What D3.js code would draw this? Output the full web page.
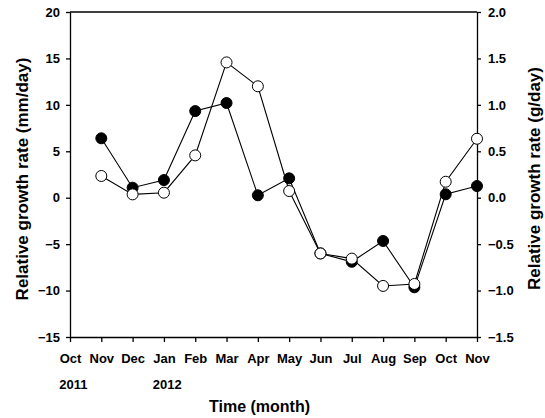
<!DOCTYPE html>
<html>
<head>
<meta charset="utf-8">
<script src="https://cdn.jsdelivr.net/npm/d3@7"></script>
<style>
	body { margin: 0; background: #fff; }
	svg text { font-family: "Liberation Sans", Arial, sans-serif; font-weight: bold; fill: #000; }
	.axis path, .axis line { stroke: #000; stroke-width: 1.3; }
	.line { fill: none; stroke: #000; stroke-width: 1.1; }
</style>
</head>
<body>
<div id="chart"></div>
<script>
	//month tick labels, Oct 2011 .. Nov 2012
	var months = ["Oct", "Nov", "Dec", "Jan", "Feb", "Mar", "Apr", "May", "Jun", "Jul", "Aug", "Sep", "Oct", "Nov"];
	var years = [{i: 0, label: "2011"}, {i: 3, label: "2012"}];
	//data points sit on months 1..13 (Nov 2011 .. Nov 2012)
	var pointMonths = [1, 2, 3, 4, 5, 6, 7, 8, 9, 10, 11, 12, 13];
	//filled circles, left axis (mm/day)
	var rgrLength = [6.4, 1.08, 1.9, 9.33, 10.2, 0.26, 2.09, -6.0, -6.9, -4.66, -9.65, 0.37, 1.26];
	//open circles, right axis (g/day)
	var rgrWeight = [0.234, 0.036, 0.054, 0.456, 1.457, 1.2, 0.072, -0.6, -0.656, -0.95, -0.929, 0.172, 0.635];
	var leftTicks = [-15, -10, -5, 0, 5, 10, 15, 20];
	var rightTicks = [-1.5, -1.0, -0.5, 0.0, 0.5, 1.0, 1.5, 2.0];

	var W = 545, H = 418;
	var margin = {top: 12, right: 68, bottom: 81, left: 70};
	var graph_w = W - margin.left - margin.right;
	var graph_h = H - margin.top - margin.bottom;

	var svg = d3.select("#chart").append("svg")
		.attr("width", W)
		.attr("height", H);
	var g = svg.append("g")
		.attr("transform", "translate(" + margin.left + "," + margin.top + ")");

	var x = d3.scaleLinear()
		.domain([0, months.length - 1])
		.range([0, graph_w]);
	var yL = d3.scaleLinear()
		.domain([-15, 20])
		.range([graph_h, 0]);
	var yR = d3.scaleLinear()
		.domain([-1.5, 2.0])
		.range([graph_h, 0]);

	//top border
	g.append("line")
		.attr("x1", 0).attr("x2", graph_w)
		.attr("y1", 0).attr("y2", 0)
		.attr("stroke", "#000").attr("stroke-width", 1.3);

	var xAxis = g.append("g")
		.attr("class", "axis x")
		.attr("transform", "translate(0," + graph_h + ")")
		.call(d3.axisBottom(x)
			.tickValues(d3.range(months.length))
			.tickSize(5).tickSizeOuter(0)
			.tickPadding(12)
			.tickFormat(function(d) { return months[d]; }));
	xAxis.selectAll("text").attr("font-size", 13);

	//year labels start where the month label starts
	years.forEach(function(yr) {
		var lbl = xAxis.selectAll(".tick text").filter(function(d) { return d == yr.i; }).node();
		var w = lbl.getComputedTextLength();
		g.append("text")
			.attr("x", x(yr.i) - w / 2)
			.attr("y", graph_h + 52)
			.attr("font-size", 13)
			.text(yr.label);
	});

	var leftAxis = g.append("g")
		.attr("class", "axis y")
		.call(d3.axisLeft(yL)
			.tickValues(leftTicks)
			.tickSize(4).tickSizeOuter(0)
			.tickPadding(6)
			.tickFormat(d3.format("d")));
	leftAxis.selectAll("text").attr("font-size", 13);

	var rightAxis = g.append("g")
		.attr("class", "axis y2")
		.attr("transform", "translate(" + graph_w + ",0)")
		.call(d3.axisRight(yR)
			.tickValues(rightTicks)
			.tickSize(4).tickSizeOuter(0)
			.tickPadding(7)
			.tickFormat(d3.format(".1f")));
	rightAxis.selectAll("text").attr("font-size", 13);

	//axis titles
	svg.append("text")
		.attr("text-anchor", "middle")
		.attr("transform", "translate(27.5,179) rotate(-90)")
		.attr("font-size", 17)
		.text("Relative growth rate (mm/day)");
	svg.append("text")
		.attr("text-anchor", "middle")
		.attr("transform", "translate(539.5,178.5) rotate(-90)")
		.attr("font-size", 17)
		.text("Relative growth rate (g/day)");
	svg.append("text")
		.attr("text-anchor", "middle")
		.attr("x", 259.5)
		.attr("y", 412)
		.attr("font-size", 16)
		.text("Time (month)");

	var lenData = pointMonths.map(function(m, i) { return {m: m, v: rgrLength[i]}; });
	var wtData = pointMonths.map(function(m, i) { return {m: m, v: rgrWeight[i]}; });

	//filled series
	g.append("path")
		.datum(lenData)
		.attr("class", "line")
		.attr("d", d3.line()
			.x(function(d) { return x(d.m); })
			.y(function(d) { return yL(d.v); }));
	g.selectAll(".dotL")
		.data(lenData)
		.enter().append("circle")
		.attr("class", "dotL")
		.attr("cx", function(d) { return x(d.m); })
		.attr("cy", function(d) { return yL(d.v); })
		.attr("r", 5.5)
		.attr("fill", "#000")
		.attr("stroke", "#000")
		.attr("stroke-width", 1);

	//open series
	g.append("path")
		.datum(wtData)
		.attr("class", "line")
		.attr("d", d3.line()
			.x(function(d) { return x(d.m); })
			.y(function(d) { return yR(d.v); }));
	g.selectAll(".dotR")
		.data(wtData)
		.enter().append("circle")
		.attr("class", "dotR")
		.attr("cx", function(d) { return x(d.m); })
		.attr("cy", function(d) { return yR(d.v); })
		.attr("r", 5.5)
		.attr("fill", "#fff")
		.attr("stroke", "#000")
		.attr("stroke-width", 1);
</script>
</body>
</html>
